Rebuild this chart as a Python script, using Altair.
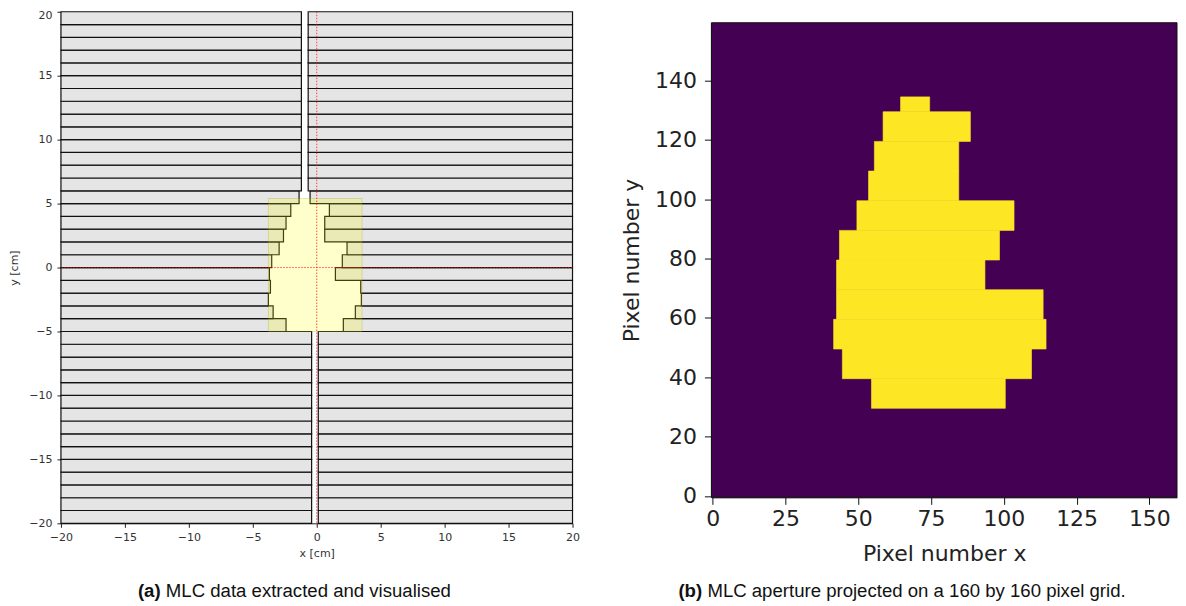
import altair as alt
import pandas as pd

# MLC leaf banks: one entry per 1 cm leaf pair, from y=-20 upward
leaf_bottom = list(range(-20, 20))
left_bank = [-0.40] * 15 + [-2.40, -3.41, -3.78, -3.62, -3.70, -3.52, -2.94, -2.60, -2.40, -2.03, -1.38] + [-1.20] * 14
right_bank = [0.12] * 15 + [2.08, 3.02, 3.49, 3.44, 1.46, 2.00, 2.37, 0.625, 0.625, 0.99, -0.52] + [-0.67] * 14
jaw_x = [-3.78, 3.54]
jaw_y = [-5.0, 5.4]

# Aperture on the pixel grid: rows and left/right edges
row_start = [29.5, 39.5, 49.5, 59.5, 69.5, 79.5, 89.5, 99.5, 109.5, 119.5, 129.5]
row_end = [39.5, 49.5, 59.5, 69.5, 79.5, 89.5, 99.5, 109.5, 119.5, 129.5, 134.5]
row_left = [54.5, 44.5, 41.5, 42.5, 42.5, 43.5, 49.5, 53.5, 55.5, 58.5, 64.5]
row_right = [100.5, 109.5, 114.5, 113.5, 93.5, 98.5, 103.5, 84.5, 84.5, 88.5, 74.5]
pix_extent = [-0.5, 159.5]

tick_a = [-20, -15, -10, -5, 0, 5, 10, 15, 20]
tick_bx = [0, 25, 50, 75, 100, 125, 150]
tick_by = [0, 20, 40, 60, 80, 100, 120, 140]

FONT = "DejaVu Sans"
CAP = "Liberation Sans"

leaves = pd.DataFrame(
    [{"x": -20, "x2": l, "y": b, "y2": b + 1} for b, l in zip(leaf_bottom, left_bank)]
    + [{"x": r, "x2": 20, "y": b, "y2": b + 1} for b, r in zip(leaf_bottom, right_bank)]
)
jaws = pd.DataFrame([{"x": jaw_x[0], "x2": jaw_x[1], "y": jaw_y[0], "y2": jaw_y[1]}])
bars = pd.DataFrame({"x": row_left, "x2": row_right, "y": row_start, "y2": row_end})
bg = pd.DataFrame([{"x": pix_extent[0], "x2": pix_extent[1], "y": pix_extent[0], "y2": pix_extent[1]}])

xa = alt.X("x:Q", scale=alt.Scale(domain=[-20, 20], nice=False, zero=False),
           axis=alt.Axis(values=tick_a, title="x [cm]", grid=False, tickSize=4, tickColor="#222",
                         domainColor="#222", labelFont=FONT, labelFontSize=11, labelColor="#333",
                         labelPadding=4.5, labelFlush=False, titleFont=FONT, titleFontSize=11,
                         titleFontWeight="normal", titleColor="#333", titlePadding=5, format="d"))
ya = alt.Y("y:Q", scale=alt.Scale(domain=[-20, 20], nice=False, zero=False),
           axis=alt.Axis(values=tick_a, title="y [cm]", grid=False, tickSize=4, tickColor="#222",
                         domainColor="#222", labelFont=FONT, labelFontSize=11, labelColor="#333",
                         labelPadding=5, labelOffset={"condition": {"test": "datum.value === 20", "value": 3.5}, "value": 0},
                         titleFont=FONT, titleFontSize=11, titleFontWeight="normal",
                         titleColor="#333", titlePadding=9, format="d"))

leaf_layer = alt.Chart(leaves).mark_rect(fill="#e5e5e5", stroke="#111", strokeWidth=1.2).encode(
    x=xa, x2="x2:Q", y=ya, y2="y2:Q")
jaw_layer = alt.Chart(jaws).mark_rect(fill="#ffff00", fillOpacity=0.2, stroke="#999900", strokeOpacity=0.25).encode(
    x="x:Q", x2="x2:Q", y="y:Q", y2="y2:Q")
cross_v = alt.Chart(pd.DataFrame({"x": [0]})).mark_rule(color="#ff0000", strokeWidth=1, strokeDash=[1.5, 1.5], opacity=0.7).encode(x="x:Q")
cross_h = alt.Chart(pd.DataFrame({"y": [0]})).mark_rule(color="#ff0000", strokeWidth=1, strokeDash=[1.5, 1.5], opacity=0.7).encode(y="y:Q")


def caption(tag, rest, x0, gap):
    a = alt.Chart(pd.DataFrame({"t": [tag]})).mark_text(
        font=CAP, fontSize=18.6, fontWeight="bold", align="left", baseline="middle", color="#111"
    ).encode(text="t:N", x=alt.value(x0), y=alt.value(580))
    b = alt.Chart(pd.DataFrame({"t": [rest]})).mark_text(
        font=CAP, fontSize=18.6, align="left", baseline="middle", color="#111"
    ).encode(text="t:N", x=alt.value(x0 + gap), y=alt.value(580))
    return a + b


left = alt.layer(leaf_layer, jaw_layer, cross_v, cross_h,
                 caption("(a)", "MLC data extracted and visualised", 77, 28)).properties(width=512, height=512)

xb = alt.X("x:Q", scale=alt.Scale(domain=pix_extent, nice=False, zero=False),
           axis=alt.Axis(values=tick_bx, title="Pixel number x", grid=False, tickSize=7, tickColor="#111",
                         domainColor="#111", labelFont=FONT, labelFontSize=22, labelColor="#222",
                         labelPadding=4.5, labelFlush=False, titleFont=FONT, titleFontSize=22,
                         titleFontWeight="normal", titleColor="#222", titlePadding=13.5, offset=-26, format="d"))
yb = alt.Y("y:Q", scale=alt.Scale(domain=pix_extent, nice=False, zero=False, range=[486, 11]),
           axis=alt.Axis(values=tick_by, title="Pixel number y", grid=False, tickSize=7, tickColor="#111",
                         domainColor="#111", labelFont=FONT, labelFontSize=22, labelColor="#222",
                         labelPadding=8, titleFont=FONT, titleFontSize=22, titleFontWeight="normal",
                         titleColor="#222", titlePadding=11, format="d"))

bg_layer = alt.Chart(bg).mark_rect(fill="#440154", stroke="#111", strokeWidth=1).encode(
    x=xb, x2="x2:Q", y=yb, y2="y2:Q")
bar_layer = alt.Chart(bars).mark_rect(fill="#fde725", stroke="#fde725", strokeWidth=0.6).encode(
    x="x:Q", x2="x2:Q", y="y:Q", y2="y2:Q")

right = alt.layer(bg_layer, bar_layer,
                  caption("(b)", "MLC aperture projected on a 160 by 160 pixel grid.", -33, 29)).properties(width=466, height=512)

chart = alt.hconcat(left, right, spacing=41,
                    padding={"left": 0, "top": 0.5, "right": 0, "bottom": 0},
                    background="white").configure_view(stroke=None)

chart.save("out.html", embed_options={"renderer": "svg", "actions": False})
